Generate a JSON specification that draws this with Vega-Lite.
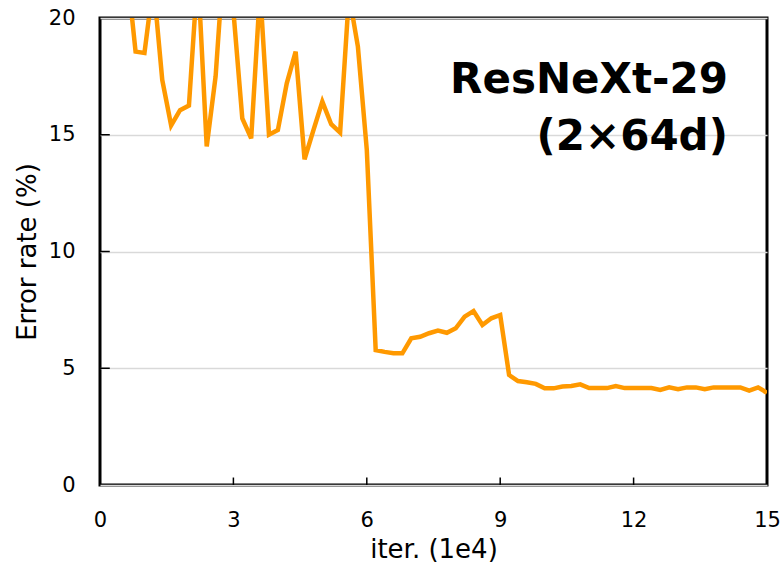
{
  "$schema": "https://vega.github.io/schema/vega-lite/v6.json",
  "width": 667,
  "height": 467,
  "autosize": {"type": "none"},
  "padding": {"left": 100, "top": 18, "right": 16, "bottom": 86},
  "background": "white",
  "config": {
    "view": {"stroke": "black", "strokeWidth": 3},
    "font": "DejaVu Sans"
  },
  "datasets": {
    "xticks": [{"t": 3}, {"t": 6}, {"t": 9}, {"t": 12}],
    "yticks": [{"t": 5}, {"t": 10}, {"t": 15}],
    "curve": [
      {"iter": 0.6, "err": 22.2},
      {"iter": 0.8, "err": 18.56},
      {"iter": 1.0, "err": 18.5},
      {"iter": 1.2, "err": 21.5},
      {"iter": 1.4, "err": 17.35},
      {"iter": 1.6, "err": 15.4},
      {"iter": 1.8, "err": 16.05},
      {"iter": 2.0, "err": 16.25},
      {"iter": 2.2, "err": 22.0},
      {"iter": 2.4, "err": 14.5},
      {"iter": 2.6, "err": 17.5},
      {"iter": 2.8, "err": 23.0},
      {"iter": 3.0, "err": 20.3},
      {"iter": 3.2, "err": 15.7},
      {"iter": 3.4, "err": 14.85},
      {"iter": 3.6, "err": 21.2},
      {"iter": 3.8, "err": 15.0},
      {"iter": 4.0, "err": 15.2},
      {"iter": 4.2, "err": 17.2},
      {"iter": 4.4, "err": 18.56},
      {"iter": 4.6, "err": 13.95},
      {"iter": 4.8, "err": 15.2},
      {"iter": 5.0, "err": 16.42},
      {"iter": 5.2, "err": 15.45},
      {"iter": 5.4, "err": 15.09},
      {"iter": 5.6, "err": 21.0},
      {"iter": 5.8, "err": 18.77},
      {"iter": 6.0, "err": 14.35},
      {"iter": 6.2, "err": 5.78},
      {"iter": 6.4, "err": 5.7},
      {"iter": 6.6, "err": 5.64},
      {"iter": 6.8, "err": 5.64},
      {"iter": 7.0, "err": 6.28},
      {"iter": 7.2, "err": 6.35},
      {"iter": 7.4, "err": 6.5},
      {"iter": 7.6, "err": 6.61},
      {"iter": 7.8, "err": 6.52},
      {"iter": 8.0, "err": 6.71},
      {"iter": 8.2, "err": 7.21},
      {"iter": 8.4, "err": 7.45},
      {"iter": 8.6, "err": 6.85},
      {"iter": 8.8, "err": 7.14},
      {"iter": 9.0, "err": 7.28},
      {"iter": 9.2, "err": 4.71},
      {"iter": 9.4, "err": 4.45},
      {"iter": 9.6, "err": 4.4},
      {"iter": 9.8, "err": 4.33},
      {"iter": 10.0, "err": 4.14},
      {"iter": 10.2, "err": 4.14},
      {"iter": 10.4, "err": 4.22},
      {"iter": 10.6, "err": 4.24},
      {"iter": 10.8, "err": 4.31},
      {"iter": 11.0, "err": 4.15},
      {"iter": 11.2, "err": 4.15},
      {"iter": 11.4, "err": 4.15},
      {"iter": 11.6, "err": 4.24},
      {"iter": 11.8, "err": 4.15},
      {"iter": 12.0, "err": 4.15},
      {"iter": 12.2, "err": 4.15},
      {"iter": 12.4, "err": 4.15},
      {"iter": 12.6, "err": 4.07},
      {"iter": 12.8, "err": 4.18},
      {"iter": 13.0, "err": 4.1},
      {"iter": 13.2, "err": 4.18},
      {"iter": 13.4, "err": 4.18},
      {"iter": 13.6, "err": 4.1},
      {"iter": 13.8, "err": 4.18},
      {"iter": 14.0, "err": 4.18},
      {"iter": 14.2, "err": 4.18},
      {"iter": 14.4, "err": 4.18},
      {"iter": 14.6, "err": 4.04},
      {"iter": 14.8, "err": 4.18},
      {"iter": 15.0, "err": 3.95}
    ]
  },
  "layer": [
    {
      "data": {"name": "curve"},
      "mark": {"type": "line", "color": "#FF9900", "strokeWidth": 4.5, "clip": true, "strokeJoin": "miter"},
      "encoding": {
        "x": {
          "field": "iter", "type": "quantitative",
          "scale": {"domain": [0, 15], "nice": false, "zero": false},
          "axis": {
            "values": [0, 3, 6, 9, 12, 15],
            "title": "iter. (1e4)",
            "titleFont": "DejaVu Sans", "titleFontSize": 26, "titleFontWeight": "normal", "titleColor": "black",
            "titlePadding": 6,
            "labelFont": "DejaVu Sans", "labelFontSize": 21, "labelColor": "black",
            "labelPadding": 24,
            "labelFlush": false,
            "domain": false, "grid": false,
            "ticks": false
          }
        },
        "y": {
          "field": "err", "type": "quantitative",
          "scale": {"domain": [0, 20], "nice": false},
          "axis": {
            "values": [0, 5, 10, 15, 20],
            "title": "Error rate (%)",
            "titleFont": "DejaVu Sans", "titleFontSize": 26, "titleFontWeight": "normal", "titleColor": "black",
            "titlePadding": 8,
            "labelFont": "DejaVu Sans", "labelFontSize": 21, "labelColor": "black",
            "labelPadding": 25,
            "labelFlush": false,
            "domain": false,
            "grid": true, "gridColor": "#d9d9d9", "gridWidth": 1.5,
            "ticks": false
          }
        }
      }
    },
    {
      "data": {"name": "xticks"},
      "mark": {"type": "rule", "color": "black", "strokeWidth": 1.5},
      "encoding": {
        "x": {"field": "t", "type": "quantitative"},
        "y": {"datum": 0, "type": "quantitative"},
        "y2": {"datum": 0.32}
      }
    },
    {
      "data": {"name": "yticks"},
      "mark": {"type": "rule", "color": "black", "strokeWidth": 1.5},
      "encoding": {
        "y": {"field": "t", "type": "quantitative"},
        "x": {"datum": 0, "type": "quantitative"},
        "x2": {"datum": 0.22}
      }
    },
    {
      "data": {"values": [{}]},
      "mark": {"type": "text", "align": "right", "baseline": "alphabetic", "font": "DejaVu Sans", "fontWeight": "bold", "fontSize": 42, "lineHeight": 57, "color": "black"},
      "encoding": {
        "x": {"datum": 14.12, "type": "quantitative"},
        "y": {"datum": 16.79, "type": "quantitative"},
        "text": {"value": ["ResNeXt-29", "(2×64d)"]}
      }
    }
  ]
}
